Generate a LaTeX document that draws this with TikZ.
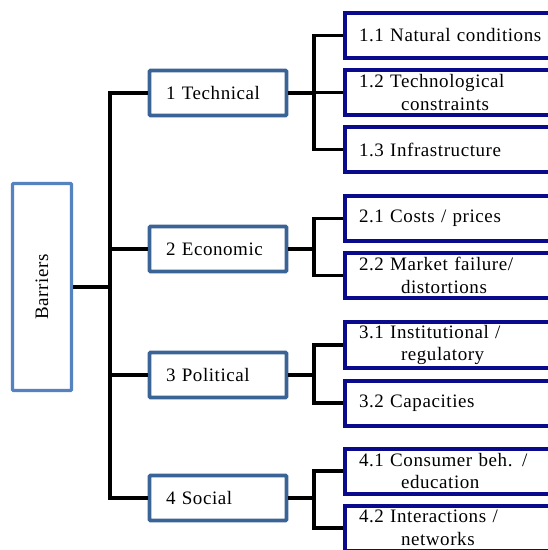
\documentclass[tikz,border=0pt]{standalone}
\usepackage{fontspec}
\setmainfont[LetterSpace=3]{Liberation Serif}
\definecolor{rootblue}{RGB}{84,131,192}
\definecolor{midblue}{RGB}{59,100,150}
\definecolor{navyblue}{RGB}{10,10,140}
\begin{document}
\begin{tikzpicture}[x=1pt,y=-1pt,
    font=\fontsize{19}{22.5}\selectfont,
    link/.style={line width=3.6pt,black},
    rootbox/.style={draw=rootblue,line width=3.2pt,rounded corners=1pt,
      minimum width=207pt,minimum height=59pt,rotate=90,inner sep=0pt},
    groupbox/.style={draw=midblue,line width=3.6pt,rounded corners=1pt,
      minimum width=137pt,minimum height=45pt,inner xsep=16pt,
      text width=104pt,align=left},
    itembox/.style={draw=navyblue,line width=4pt,anchor=west,
      minimum width=240pt,minimum height=45pt,inner xsep=13pt,
      text width=212pt,align=left}]
  \useasboundingbox (0,0) rectangle (548,550);
  \clip (0,0) rectangle (548,550);

  \node[rootbox] (barriers) at (42,287) {Barriers};

  \node[groupbox] (tech) at (218,93) {1 Technical};
  \node[groupbox] (econ) at (218,249) {2 Economic};
  \node[groupbox] (pol) at (218,375) {3 Political};
  \node[groupbox] (soc) at (218,498) {4 Social};

  \node[itembox] (n11) at (343,35.5) {1.1 Natural conditions};
  \node[itembox] (n12) at (343,92.5) {1.2 Technological\\\hspace*{42pt}constraints};
  \node[itembox] (n13) at (343,149.5) {1.3 Infrastructure};
  \node[itembox] (n21) at (343,218.5) {2.1 Costs / prices};
  \node[itembox] (n22) at (343,275.5) {2.2 Market failure/\\\hspace*{42pt}distortions};
  \node[itembox] (n31) at (343,345) {3.1 Institutional /\\\hspace*{42pt}regulatory};
  \node[itembox] (n32) at (343,403) {3.2 Capacities};
  \node[itembox] (n41) at (343,471) {4.1 Consumer beh. /\\\hspace*{42pt}education};
  \node[itembox] (n42) at (343,528) {4.2 Interactions /\\\hspace*{42pt}networks};

  % trunk
  \coordinate (trunk) at (110,287);
  \draw[link] (barriers.south) -- (trunk);
  \draw[link] (tech.west) -| (trunk);
  \draw[link] (econ.west) -| (trunk);
  \draw[link] (pol.west) -| (trunk);
  \draw[link] (soc.west) -| (trunk);

  % branches
  \coordinate (j1) at (314,93);
  \coordinate (j2) at (314,249);
  \coordinate (j3) at (314,375);
  \coordinate (j4) at (314,498);
  \draw[link] (tech.east) -- (j1);
  \draw[link] (econ.east) -- (j2);
  \draw[link] (pol.east) -- (j3);
  \draw[link] (soc.east) -- (j4);
  \draw[link] (n11.west) -| (j1);
  \draw[link] (n12.west) -| (j1);
  \draw[link] (n13.west) -| (j1);
  \draw[link] (n21.west) -| (j2);
  \draw[link] (n22.west) -| (j2);
  \draw[link] (n31.west) -| (j3);
  \draw[link] (n32.west) -| (j3);
  \draw[link] (n41.west) -| (j4);
  \draw[link] (n42.west) -| (j4);
\end{tikzpicture}
\end{document}
